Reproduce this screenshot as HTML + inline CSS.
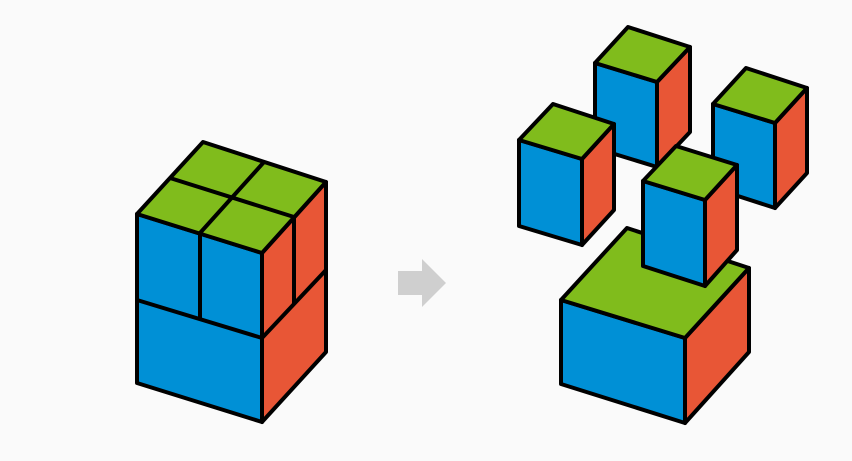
<!DOCTYPE html>
<html><head><style>body{margin:0;background:#fafafa}svg{display:block}</style></head><body>
<svg width="852" height="461" viewBox="0 0 852 461" xmlns="http://www.w3.org/2000/svg">
<rect width="852" height="461" fill="#fafafa"/>
<g stroke="#000" stroke-width="4" stroke-linejoin="round">
<!-- left stacked block -->
<polygon points="137,214 262,253 262,422 137,383" fill="#0090d6"/>
<polygon points="262,253 326,182 326,352 262,422" fill="#e85636"/>
<polygon points="137,214 203,142 326,182 262,253" fill="#80bc1c"/>
<line x1="137" y1="300" x2="262" y2="338"/>
<line x1="262" y1="338" x2="326" y2="270"/>
<line x1="170" y1="178" x2="294" y2="217"/>
<line x1="200" y1="233" x2="264" y2="162"/>
<line x1="200" y1="233" x2="200" y2="319"/>
<line x1="294" y1="217" x2="294" y2="304"/>
</g>
<polygon points="398,271 422,271 422,259 446,283 422,307 422,295 398,295" fill="#cfcfcf"/>
<g stroke="#000" stroke-width="4" stroke-linejoin="round">
<!-- back top box -->
<polygon points="595,63 657,82 657,167 595,148" fill="#0090d6"/>
<polygon points="657,82 690,47 690,132 657,167" fill="#e85636"/>
<polygon points="595,63 628,27 690,47 657,82" fill="#80bc1c"/>
<!-- right box -->
<polygon points="713,104 775,123 775,208 713,188" fill="#0090d6"/>
<polygon points="775,123 807,88 807,173 775,208" fill="#e85636"/>
<polygon points="713,104 746,68 807,88 775,123" fill="#80bc1c"/>
<!-- left box -->
<polygon points="519,140 582,159 582,245 519,226" fill="#0090d6"/>
<polygon points="582,159 614,124 614,210 582,245" fill="#e85636"/>
<polygon points="519,140 553,104 614,124 582,159" fill="#80bc1c"/>
<!-- big box -->
<polygon points="561,300 685,338 685,423 561,384" fill="#0090d6"/>
<polygon points="685,338 749,268 749,352 685,423" fill="#e85636"/>
<polygon points="561,300 627,228 749,268 685,338" fill="#80bc1c"/>
<!-- middle box -->
<polygon points="643,181 705,200 705,286 643,266" fill="#0090d6"/>
<polygon points="705,200 737,165 737,250 705,286" fill="#e85636"/>
<polygon points="643,181 676,146 737,165 705,200" fill="#80bc1c"/>
</g>
</svg>
</body></html>
